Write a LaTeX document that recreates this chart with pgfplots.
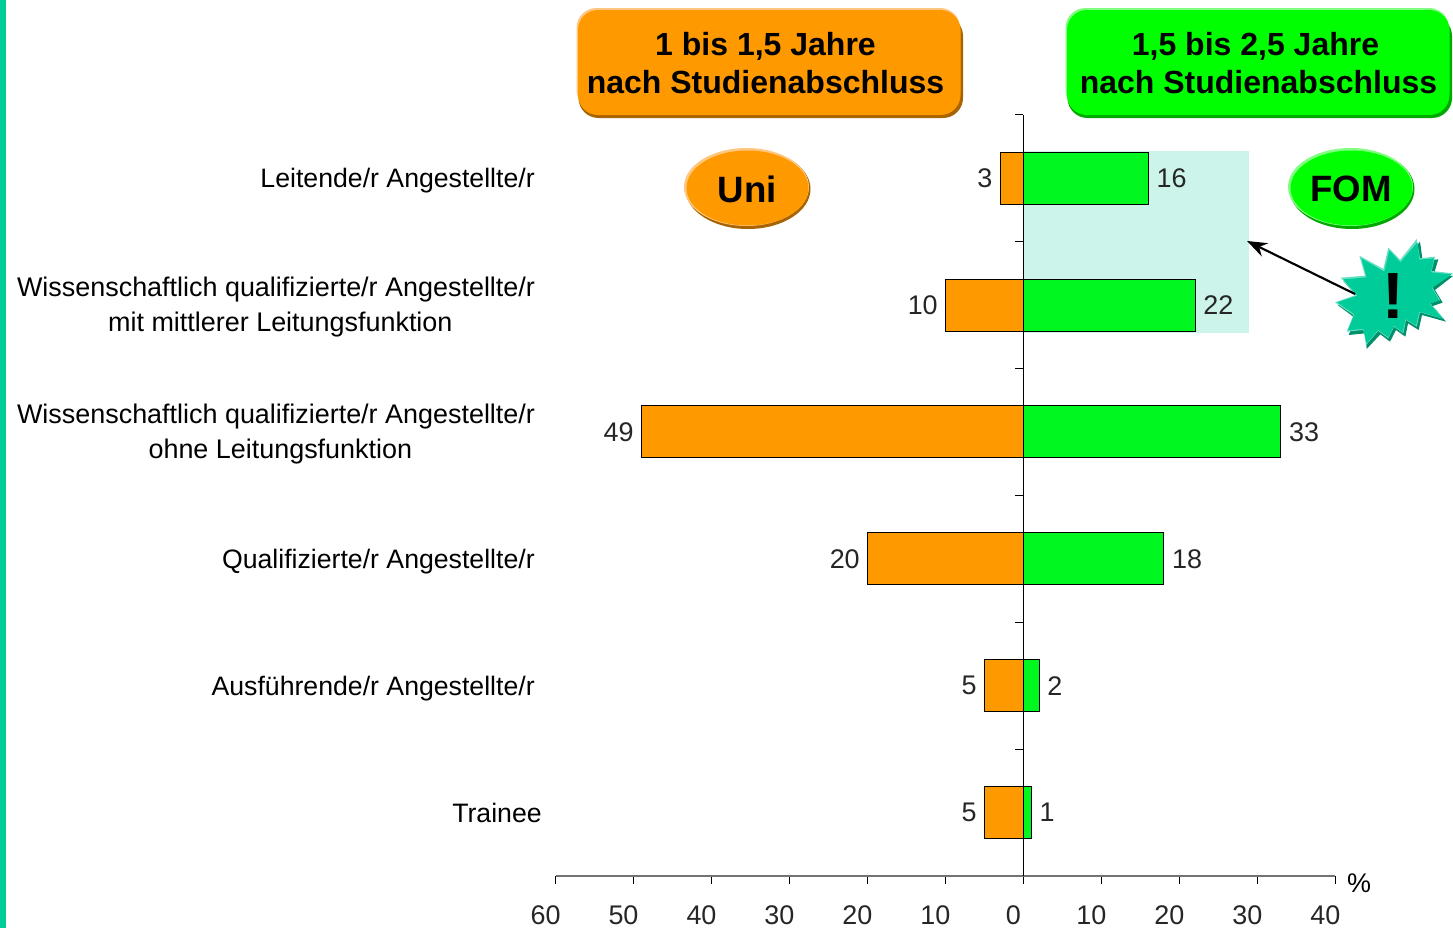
\documentclass[border=0pt]{standalone}
\usepackage{pgfplots}
\pgfplotsset{compat=1.18}
\usepackage{fontspec}
\setmainfont{Liberation Sans}
\usetikzlibrary{arrows.meta,shapes.geometric}
\definecolor{orb}{HTML}{FF9900}
\definecolor{orbd}{HTML}{A86400}
\definecolor{orbl}{HTML}{FFC680}
\definecolor{grb}{HTML}{00FF00}
\definecolor{grbar}{HTML}{00F820}
\definecolor{grd}{HTML}{00A800}
\definecolor{grl}{HTML}{80FF80}
\definecolor{tl}{HTML}{00CC99}
\definecolor{tld}{HTML}{008F6B}
\definecolor{tlh}{HTML}{66E0C2}
\definecolor{tlb}{HTML}{CCF4EA}
\newcommand{\lab}{\fontsize{20.2}{26}\selectfont}
\newcommand{\labs}{\fontsize{20}{26}\selectfont}
\newcommand{\tit}{\fontsize{24}{29}\selectfont\bfseries}
\newcommand{\boxx}[7]{%
 \fill[#6,rounded corners=15] (#1+2,#2+8) rectangle (#3,#4);
 \fill[#7,rounded corners=15] (#1,#2) rectangle (#3-3,#4-8);
 \fill[#5,rounded corners=15] (#1+1.5,#2+2) rectangle (#3-2.5,#4-3);
}
\begin{document}
\begin{tikzpicture}[x=0.75pt,y=-0.75pt]
\path[use as bounding box] (0,0) rectangle (1453,928);
\fill[white] (0,0) rectangle (1453,928);
\fill[tl] (0,0) rectangle (6,928);
\fill[tlb] (1023,151) rectangle (1249,333);
\begin{scope}[shift={(555.5,876)}]
\begin{axis}[
  at={(0,0)},anchor=south west,
  scale only axis,width=584.9pt,height=571pt,
  xmin=-60,xmax=40,ymin=0,ymax=6,
  axis x line=bottom,axis y line=center,
  axis line style={-},
  x axis line style={draw=black!55,line width=1.4pt},
  xtick={-60,-50,-40,-30,-20,-10,0,10,20,30,40},
  xticklabels={60,50,40,30,20,10,0,10,20,30,40},
  ytick={1,2,3,4,5,6},yticklabels={},
  tick align=outside,
  major tick length=6pt,
  tick style={black,line width=0.6pt},
  xticklabel style={font=\lab,xshift=-7.5pt,yshift=-13pt,text=black!85},
  /pgf/number format/assume math mode=true,
  axis on top,
  clip=false,
  every node near coord/.append style={font=\lab,text=black!85,inner sep=0pt},
]
\addplot[xbar,bar width=39pt,fill=orb,draw=black,line width=0.6pt,
  point meta={-x},
  nodes near coords,
  nodes near coords align={left},every node near coord/.append style={xshift=-5.5pt}]
  coordinates {(-3,5.5) (-10,4.5) (-49,3.5) (-20,2.5) (-5,1.5) (-5,0.5)};
\addplot[xbar,bar width=39pt,fill=grbar,draw=black,line width=0.6pt,
  point meta=x,
  nodes near coords,
  nodes near coords align={right},every node near coord/.append style={xshift=6pt}]
  coordinates {(16,5.5) (22,4.5) (33,3.5) (18,2.5) (2,1.5) (1,0.5)};
\end{axis}
\end{scope}
\node[font=\labs,anchor=east,inner sep=0pt] at (535,181) {Leitende/r Angestellte/r};
\node[font=\lab,align=center,inner sep=0pt] at (276,307) {Wissenschaftlich qualifizierte/r Angestellte/r\\\hspace*{6.5pt}mit mittlerer Leitungsfunktion};
\node[font=\lab,align=center,inner sep=0pt] at (276,434) {Wissenschaftlich qualifizierte/r Angestellte/r\\\hspace*{6.5pt}ohne Leitungsfunktion};
\node[font=\labs,anchor=east,inner sep=0pt] at (535,562) {Qualifizierte/r Angestellte/r};
\node[font=\labs,anchor=east,inner sep=0pt] at (535,689) {Ausführende/r Angestellte/r};
\node[font=\labs,anchor=east,inner sep=0pt] at (542,813) {Trainee};
\node[font=\lab,inner sep=0pt] at (1359,883) {\%};
% header boxes
\boxx{576.5}{8}{963}{118}{orb}{orbd}{orbl}
\boxx{1065.5}{8}{1452}{118}{grb}{grd}{grl}
\node[font=\tit,align=center,inner sep=0pt] at (765.5,63) {1 bis 1,5 Jahre\\nach Studienabschluss};
\node[font=\tit,align=center,inner sep=0pt] at (1258.5,63) {1,5 bis 2,5 Jahre\hspace*{4.5pt}\\nach Studienabschluss};
% ovals
\fill[orbd] (748,189) ellipse [x radius=62.5,y radius=40];
\fill[orbl] (746.5,187) ellipse [x radius=62.5,y radius=39];
\fill[orb] (747.5,188) ellipse [x radius=61,y radius=37.5];
\fill[grd] (1352,189) ellipse [x radius=62.5,y radius=40];
\fill[grl] (1350.5,187) ellipse [x radius=62.5,y radius=39];
\fill[grb] (1351.5,188) ellipse [x radius=61,y radius=37.5];
\node[font=\fontsize{27.5}{32}\selectfont\bfseries,inner sep=0pt] at (747.5,189) {Uni};
\node[font=\fontsize{27.5}{32}\selectfont\bfseries,inner sep=0pt] at (1351,189) {FOM};
% star
\def\starpts{(62,158) (135,152) (118,92) (190,132) (205,68) (240,105) (290,42) (300,100) (345,95) (335,138) (399,145) (337,187) (360,225) (330,235) (372,282) (300,262) (290,305) (258,285) (250,325) (222,305) (205,340) (175,318) (138,360) (130,315) (80,320) (100,270) (45,232) (108,210)}
\begin{scope}[shift={(1320,225)},x=0.25pt,y=-0.25pt]
\fill[tld] plot coordinates {(70,168) (142,162) (125,100) (197,140) (212,76) (247,113) (300,50) (308,108) (355,103) (342,146) (399,153) (345,195) (368,233) (338,243) (378,290) (306,270) (296,315) (264,295) (256,335) (228,315) (210,350) (181,328) (140,372) (136,325) (86,330) (106,280) (53,240) (114,218)} -- cycle;
\fill[tlh] plot coordinates {\starpts} -- cycle;
\fill[tl] plot coordinates {(70,163) (140,157) (124,100) (193,140) (208,76) (241,112) (292,52) (298,104) (342,100) (333,142) (395,148) (335,188) (358,226) (328,236) (368,280) (298,260) (288,302) (257,282) (248,322) (222,302) (205,337) (175,315) (140,355) (130,312) (84,316) (103,268) (52,232) (112,212)} -- cycle;
\end{scope}
\draw[-{Stealth[length=15pt,width=11pt]},line width=1.6pt] (1355,294) -- (1247,241);
\node[font=\fontsize{49}{49}\selectfont\bfseries,inner sep=0pt] at (1393.5,296) {!};
\end{tikzpicture}
\end{document}
